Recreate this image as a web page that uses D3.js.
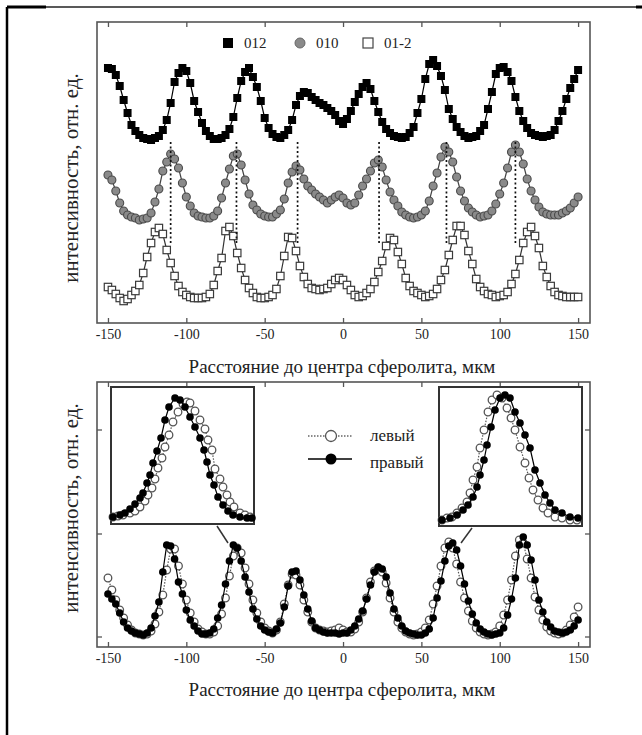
<!DOCTYPE html>
<html>
<head>
<meta charset="utf-8">
<script src="https://cdn.jsdelivr.net/npm/d3@7"></script>
<style>
    body { margin: 0; background: #fff; }
    svg text { font-family: "Liberation Serif", "DejaVu Serif", serif; fill: #222; }
</style>
</head>
<body>
<svg id="chart" width="642" height="735"></svg>
<script>
var FONT = "'Liberation Serif', 'DejaVu Serif', serif";

// Distance grid, um (all profiles are sampled on it)
var xStart = -150;
var xStep = 2.5;
var xTicks = [-150, -100, -50, 0, 50, 100, 150];

// Top panel, relative intensity (offset curves)
var s012 = [257,256,250,239,225,212,200,194,190,187,
    186,185,187,189,195,205,222,243,252,257,
    254,242,224,213,202,194,189,186,186,187,
    190,196,208,227,244,253,257,248,238,224,
    207,197,191,188,187,190,195,205,220,229,
    233,232,228,225,222,220,217,214,210,204,
    201,206,214,223,231,238,242,236,224,213,
    203,196,192,189,188,187,188,192,198,212,
    226,246,261,265,259,249,235,216,206,198,
    193,189,187,188,189,194,200,216,233,251,
    257,258,253,244,228,214,204,197,192,190,
    189,188,189,190,195,204,214,226,237,246,
    255];
var s010 = [150,145,134,122,114,110,108,107,105,106,
    107,112,123,136,154,163,171,166,157,142,
    128,119,112,109,108,107,107,109,114,127,
    142,156,169,171,160,145,131,120,115,111,
    109,108,108,111,115,126,142,153,159,155,
    146,139,135,131,128,125,122,125,128,130,
    127,122,120,122,130,139,146,154,162,165,
    158,145,133,125,119,113,110,108,107,108,
    110,114,124,139,152,168,178,173,163,148,
    134,124,117,113,110,108,109,110,114,121,
    131,142,157,173,180,173,161,146,134,125,
    118,113,111,110,110,110,112,114,117,122,
    128];
var s01m2 = [38,35,31,27,24,26,30,34,40,52,
    68,82,93,97,91,75,62,49,39,33,
    30,28,27,27,27,28,31,40,54,67,
    94,98,89,72,57,45,37,32,28,27,
    27,28,30,36,49,69,88,87,74,59,
    48,41,37,36,35,36,37,41,45,47,
    45,40,35,30,28,29,32,36,43,53,
    64,79,87,85,73,61,47,39,34,32,
    30,28,29,31,36,45,55,70,85,99,
    99,90,74,61,46,38,34,31,30,28,
    29,30,33,41,51,65,82,93,98,89,
    77,59,48,39,33,30,29,28,28,28,
    28];
var topNames = ["012", "010", "01-2"];

// Dotted guides at the 010 maxima
var peakLines = [-110, -68, -29, 23, 66, 110];
var peakLineRange = [183, 82];

// Bottom panel: left and right radial profiles
var leftSide = [69,57,47,37,29,22,17,14,13,12,
    13,16,23,35,52,77,98,98,81,63,
    47,34,25,18,15,13,13,15,21,33,
    49,71,91,99,94,79,63,47,34,25,
    19,16,14,17,25,43,62,73,72,62,
    47,35,25,19,17,16,15,16,17,19,
    17,15,15,18,25,35,49,65,76,79,
    75,64,49,35,25,19,15,13,12,13,
    15,19,27,43,61,81,99,105,99,83,
    65,49,36,26,19,15,13,12,13,15,
    21,32,47,67,91,107,104,88,69,50,
    37,27,20,16,14,13,14,17,22,30,
    40];
var rightSide = [53,48,43,34,25,19,16,14,13,12,
    14,19,31,45,75,102,101,88,65,53,
    37,27,21,16,13,13,14,18,29,42,
    63,86,102,99,86,70,55,38,28,21,
    17,15,14,18,24,40,61,75,76,67,
    52,38,26,19,17,15,14,14,14,13,
    14,14,17,21,28,36,48,62,75,80,
    78,70,54,38,29,21,16,14,13,12,
    12,14,18,29,49,66,86,101,104,97,
    81,63,46,33,24,18,15,13,12,13,
    14,19,32,48,69,102,110,102,87,67,
    47,35,25,20,16,15,14,15,17,21,
    27];
var bottomNames = ["левый", "правый"];
var bottomYTicks = [10, 113, 217];

// Insets: zoom of one peak each, [position, intensity] in inset units
var insetLeftOpen = [[2,7],[7,8],[12,9],[19,11],[24,13],[29,17],[34,23],[37,29],[41,36],[44,45],
    [47,56],[51,66],[54,77],[58,89],[62,102],[67,112],[72,120],[76,122],[79,121],[84,113],
    [89,104],[94,95],[97,84],[101,74],[104,55],[109,45],[112,37],[116,29],[119,22],[123,17],
    [129,11],[134,9],[139,7]];
var insetLeftFilled = [[2,7],[9,9],[14,11],[19,15],[24,20],[29,26],[32,31],[36,41],[39,49],[42,61],
    [46,73],[50,86],[54,104],[58,117],[64,126],[69,124],[74,117],[79,107],[84,97],[89,86],
    [93,74],[96,62],[99,49],[103,39],[107,27],[112,19],[117,13],[122,9],[129,7],[136,6],[141,6]];
var insetRightOpen = [[3,6],[8,8],[13,9],[18,13],[23,18],[28,24],[31,33],[34,46],[38,59],[41,78],
    [45,96],[49,114],[53,126],[58,131],[63,128],[68,118],[72,108],[76,96],[81,79],[86,63],
    [90,48],[94,36],[99,26],[104,18],[109,13],[116,9],[123,8],[131,6],[138,6]];
var insetRightFilled = [[3,6],[11,8],[18,11],[24,16],[29,21],[34,29],[38,39],[41,51],[45,66],[48,81],
    [52,99],[56,116],[61,128],[66,131],[71,128],[76,114],[81,103],[86,91],[91,78],[96,56],
    [101,43],[106,31],[111,23],[116,16],[123,13],[131,9],[139,8]];
// Which main-plot peak each inset points at: [x on plot, height on plot]
var insetLinks = [[-73.4, 104], [75.3, 104]];

var svg = d3.select("#chart");

function xAt(i) { return xStart + i * xStep; }

// Page frame (table cell borders)
svg.append("line").attr("x1", 7).attr("y1", 7).attr("x2", 642).attr("y2", 7)
    .attr("stroke", "#222").attr("stroke-width", 1.5);
svg.append("line").attr("x1", 7).attr("y1", 7).attr("x2", 46).attr("y2", 7)
    .attr("stroke", "#000").attr("stroke-width", 3);
svg.append("line").attr("x1", 636).attr("y1", 7).attr("x2", 642).attr("y2", 7)
    .attr("stroke", "#000").attr("stroke-width", 3);
svg.append("line").attr("x1", 7).attr("y1", 7).attr("x2", 7).attr("y2", 735)
    .attr("stroke", "#000").attr("stroke-width", 2.5);

var x = d3.scaleLinear().domain([-157, 157.6]).range([97, 590]);

// Draws box, inward ticks and labels for one panel
function Frame(y, top, bottom, yTicks) {
    var g = svg.append("g");
    g.append("rect")
        .attr("x", 97).attr("y", top)
        .attr("width", 493).attr("height", bottom - top)
        .attr("fill", "none").attr("stroke", "#555").attr("stroke-width", 1.6);

    var axB = g.append("g").attr("transform", "translate(0," + bottom + ")")
        .call(d3.axisBottom(x).tickValues(xTicks).tickSize(-5).tickPadding(6)
            .tickFormat(function (d) { return String(d); }));
    axB.attr("font-family", FONT);
    axB.select(".domain").remove();
    axB.selectAll("line").attr("stroke", "#555").attr("stroke-width", 1.3);
    axB.selectAll("text").attr("font-size", 14).attr("fill", "#333");

    var axT = g.append("g").attr("transform", "translate(0," + top + ")")
        .call(d3.axisTop(x).tickValues(xTicks).tickSize(-5).tickFormat(""));
    axT.select(".domain").remove();
    axT.selectAll("line").attr("stroke", "#555").attr("stroke-width", 1.3);

    if (yTicks) {
        [[97, 5], [590, -5]].forEach(function (p) {
            g.selectAll(null).data(yTicks).enter().append("line")
                .attr("x1", p[0]).attr("x2", p[0] + p[1])
                .attr("y1", function (d) { return y(d); })
                .attr("y2", function (d) { return y(d); })
                .attr("stroke", "#555").attr("stroke-width", 1.3);
        });
    }
}

function Titles(titleY, midY) {
    svg.append("text")
        .attr("x", 342).attr("y", titleY)
        .attr("text-anchor", "middle")
        .attr("font-family", FONT)
        .attr("font-size", 19)
        .text("Расстояние до центра сферолита, мкм");
    svg.append("text")
        .attr("transform", "translate(78," + midY + ") rotate(-90)")
        .attr("text-anchor", "middle")
        .attr("font-family", FONT)
        .attr("font-size", 21)
        .text("интенсивность, отн. ед.");
}

// ---------- Top panel ----------
var yTop = d3.scaleLinear().domain([2, 303]).range([323, 22]);
Frame(yTop, 22, 323, null);
Titles(373, 178);

var topLine = d3.line()
    .x(function (d, i) { return x(xAt(i)); })
    .y(function (d) { return yTop(d); });

var gTop = svg.append("g");

function DrawSeries(g, data, line, color, dash) {
    g.append("path").datum(data)
        .attr("d", line)
        .attr("fill", "none")
        .attr("stroke", color)
        .attr("stroke-width", 1.2)
        .attr("stroke-dasharray", dash);
}

DrawSeries(gTop, s012, topLine, "#000", null);
gTop.selectAll(null).data(s012).enter().append("rect")
    .attr("x", function (d, i) { return x(xAt(i)) - 4; })
    .attr("y", function (d) { return yTop(d) - 4; })
    .attr("width", 8).attr("height", 8)
    .attr("fill", "#000");

DrawSeries(gTop, s010, topLine, "#444", null);
gTop.selectAll(null).data(s010).enter().append("circle")
    .attr("cx", function (d, i) { return x(xAt(i)); })
    .attr("cy", function (d) { return yTop(d); })
    .attr("r", 4)
    .attr("fill", "#8a8a8a").attr("stroke", "#4a4a4a").attr("stroke-width", 1.1);

DrawSeries(gTop, s01m2, topLine, "#333", null);
gTop.selectAll(null).data(s01m2).enter().append("rect")
    .attr("x", function (d, i) { return x(xAt(i)) - 3.7; })
    .attr("y", function (d) { return yTop(d) - 3.7; })
    .attr("width", 7.4).attr("height", 7.4)
    .attr("fill", "#fff").attr("stroke", "#3a3a3a").attr("stroke-width", 1.2);

gTop.selectAll(null).data(peakLines).enter().append("line")
    .attr("x1", function (d) { return x(d); })
    .attr("x2", function (d) { return x(d); })
    .attr("y1", yTop(peakLineRange[0]))
    .attr("y2", yTop(peakLineRange[1]))
    .attr("stroke", "#111").attr("stroke-width", 1.7)
    .attr("stroke-dasharray", "2,2.5");

// Top legend
var legTop = svg.append("g").attr("transform", "translate(0,43)");
var legX = [228, 300, 368];
legTop.append("rect").attr("x", legX[0] - 5).attr("y", -5).attr("width", 10).attr("height", 10)
    .attr("fill", "#000");
legTop.append("circle").attr("cx", legX[1]).attr("cy", 0).attr("r", 5)
    .attr("fill", "#8a8a8a").attr("stroke", "#666");
legTop.append("rect").attr("x", legX[2] - 5).attr("y", -5).attr("width", 10).attr("height", 10)
    .attr("fill", "#fff").attr("stroke", "#444").attr("stroke-width", 1.2);
legTop.selectAll("text").data(topNames).enter().append("text")
    .attr("x", function (d, i) { return legX[i] + 16; })
    .attr("y", 5)
    .attr("font-family", FONT)
    .attr("font-size", 15)
    .attr("fill", "#333")
    .text(function (d) { return d; });

// ---------- Bottom panel ----------
var yBot = d3.scaleLinear().domain([0, 265]).range([647, 382]);
Frame(yBot, 382, 647, bottomYTicks);
Titles(696, 508);

var botLine = d3.line()
    .x(function (d, i) { return x(xAt(i)); })
    .y(function (d) { return yBot(d); });

var gBot = svg.append("g");

function OpenMarks(sel) {
    sel.attr("r", 3.8).attr("fill", "#fff").attr("stroke", "#555").attr("stroke-width", 1.3);
}
function FilledMarks(sel) {
    sel.attr("r", 3.8).attr("fill", "#000");
}

DrawSeries(gBot, leftSide, botLine, "#555", "1.5,1.5");
OpenMarks(gBot.selectAll(null).data(leftSide).enter().append("circle")
    .attr("cx", function (d, i) { return x(xAt(i)); })
    .attr("cy", function (d) { return yBot(d); }));

DrawSeries(gBot, rightSide, botLine, "#000", null);
FilledMarks(gBot.selectAll(null).data(rightSide).enter().append("circle")
    .attr("cx", function (d, i) { return x(xAt(i)); })
    .attr("cy", function (d) { return yBot(d); }));

// Insets
var insets = [
    { box: [111, 254, 387, 524], yMax: 137, open: insetLeftOpen, filled: insetLeftFilled, link: insetLinks[0], from: 217 },
    { box: [439, 582, 387, 526], yMax: 139, open: insetRightOpen, filled: insetRightFilled, link: insetLinks[1], from: 472 }
];

insets.forEach(function (ins) {
    var b = ins.box;
    var ix = d3.scaleLinear().domain([0, 143]).range([b[0], b[1]]);
    var iy = d3.scaleLinear().domain([0, ins.yMax]).range([b[3], b[2]]);
    var line = d3.line()
        .x(function (d) { return ix(d[0]); })
        .y(function (d) { return iy(d[1]); });
    var g = svg.append("g");

    g.append("rect")
        .attr("x", b[0]).attr("y", b[2])
        .attr("width", b[1] - b[0]).attr("height", b[3] - b[2])
        .attr("fill", "#fff").attr("stroke", "#333").attr("stroke-width", 2);

    DrawSeries(g, ins.open, line, "#555", "1.5,1.5");
    OpenMarks(g.selectAll(null).data(ins.open).enter().append("circle")
        .attr("cx", function (d) { return ix(d[0]); })
        .attr("cy", function (d) { return iy(d[1]); }));

    DrawSeries(g, ins.filled, line, "#000", null);
    FilledMarks(g.selectAll(null).data(ins.filled).enter().append("circle")
        .attr("cx", function (d) { return ix(d[0]); })
        .attr("cy", function (d) { return iy(d[1]); }));

    // pointer to the peak it magnifies
    svg.append("line")
        .attr("x1", ins.from).attr("y1", b[3] + 2)
        .attr("x2", x(ins.link[0])).attr("y2", yBot(ins.link[1]))
        .attr("stroke", "#333").attr("stroke-width", 1.5);
});

// Bottom legend
var legBot = svg.append("g");
var legRows = [436, 459];
legBot.append("line").attr("x1", 308).attr("x2", 352).attr("y1", legRows[0]).attr("y2", legRows[0])
    .attr("stroke", "#666").attr("stroke-width", 1.5).attr("stroke-dasharray", "1.5,1.5");
legBot.append("circle").attr("cx", 331).attr("cy", legRows[0]).attr("r", 5.5)
    .attr("fill", "#fff").attr("stroke", "#555").attr("stroke-width", 1.3);
legBot.append("line").attr("x1", 308).attr("x2", 352).attr("y1", legRows[1]).attr("y2", legRows[1])
    .attr("stroke", "#000").attr("stroke-width", 1.6);
legBot.append("circle").attr("cx", 331).attr("cy", legRows[1]).attr("r", 5.5)
    .attr("fill", "#000");
legBot.selectAll("text").data(bottomNames).enter().append("text")
    .attr("x", 370)
    .attr("y", function (d, i) { return [441, 468][i]; })
    .attr("font-family", FONT)
    .attr("font-size", 17)
    .text(function (d) { return d; });
</script>
</body>
</html>
